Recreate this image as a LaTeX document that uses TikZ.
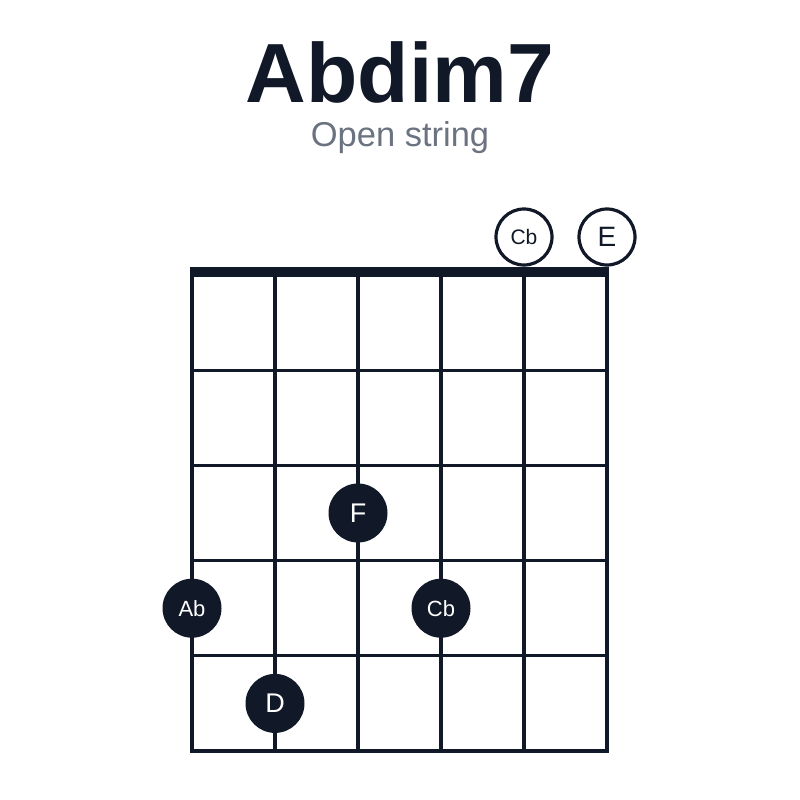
\documentclass[tikz,border=0pt]{standalone}
\usepackage{fontspec}
\setmainfont{Liberation Sans}
\definecolor{ink}{HTML}{111827}
\definecolor{subgray}{HTML}{6B7280}
\tikzset{
  fingerdot/.style={circle,fill=ink,draw=none,minimum size=59pt,inner sep=0pt,text=white},
  opendot/.style={circle,fill=white,draw=ink,line width=3.2pt,minimum size=56pt,inner sep=0pt,text=ink},
}

\begin{document}
\begin{tikzpicture}[x=1pt,y=-1pt,line width=3.2pt,draw=ink]
        \useasboundingbox (0,0) rectangle (800,800);
        \node[anchor=base,inner sep=0pt,text=ink,font=\fontsize{84}{84}\selectfont\bfseries] (title) at (400,102) {Abdim7};
        \node[anchor=base,inner sep=0pt,text=subgray,font=\fontsize{34.5}{34.5}\selectfont] (subtitle) at (400,146) {Open string};
        % strings
        \draw[ink] (192, 272) to (192, 752.6);
        \draw[ink] (275, 272) to (275, 752.6);
        \draw[ink] (358, 272) to (358, 752.6);
        \draw[ink] (441, 272) to (441, 752.6);
        \draw[ink] (524, 272) to (524, 752.6);
        \draw[ink] (607, 272) to (607, 752.6);
        % frets
        \draw[ink] (190.4, 370.2) to (608.6, 370.2);
        \draw[ink] (190.4, 465.4) to (608.6, 465.4);
        \draw[ink] (190.4, 560.6) to (608.6, 560.6);
        \draw[ink] (190.4, 655.8) to (608.6, 655.8);
        \draw[ink] (190.4, 751) to (608.6, 751);
        % nut
        \fill[ink] (190.4, 267) rectangle (608.6, 277);
        % open strings
        \node[opendot,font=\fontsize{21}{21}\selectfont] (open5) at (524, 237) {Cb};
        \node[opendot,font=\fontsize{28}{28}\selectfont] (open6) at (607, 237) {E};
        % fingers
        \node[fingerdot,font=\fontsize{27}{27}\selectfont] (fingerF) at (358, 513) {F};
        \node[fingerdot,font=\fontsize{22}{22}\selectfont] (fingerAb) at (192, 608.2) {Ab};
        \node[fingerdot,font=\fontsize{22}{22}\selectfont] (fingerCb) at (441, 608.2) {Cb};
        \node[fingerdot,font=\fontsize{27}{27}\selectfont] (fingerD) at (275, 703.4) {D};
      \end{tikzpicture}
\end{document}
